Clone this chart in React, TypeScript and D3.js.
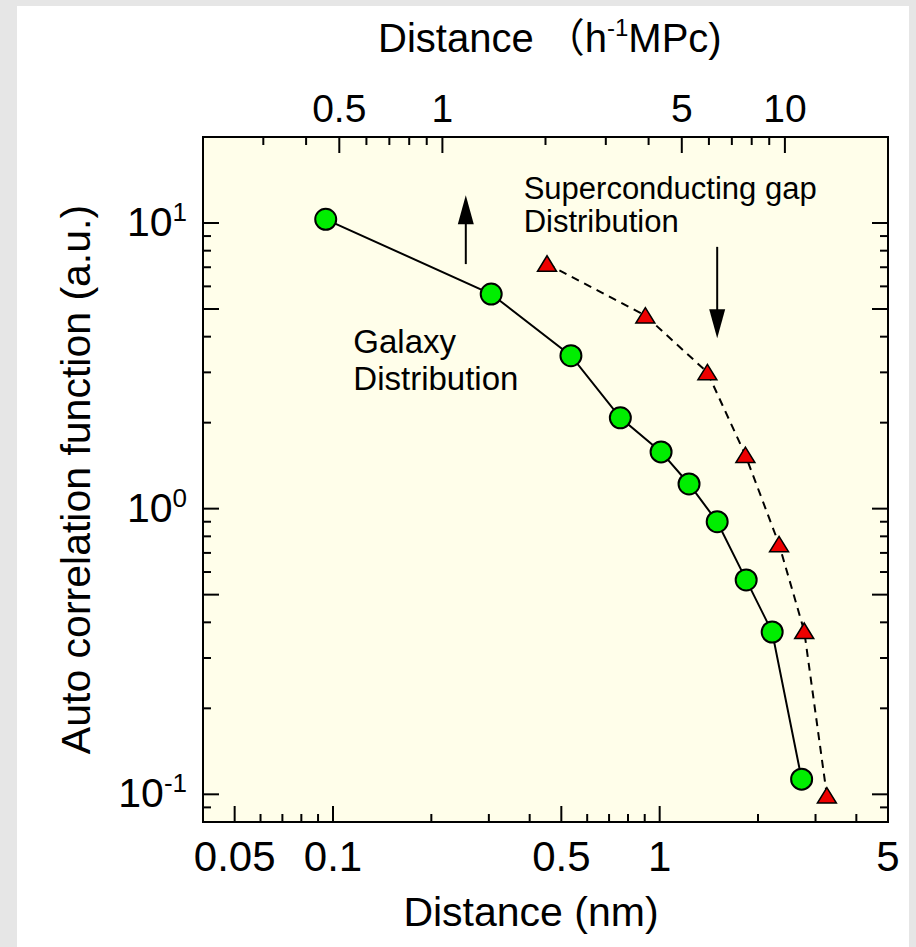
import React from "react";
import * as d3 from "d3";

// galaxy distribution (circles), x in nm
const galaxyX = [0.095, 0.305, 0.535, 0.758, 1.01, 1.23, 1.5, 1.84, 2.21, 2.72];
const galaxyY = [10.3, 5.64, 3.43, 2.08, 1.58, 1.22, 0.9, 0.563, 0.37, 0.113];

// superconducting gap distribution (triangles)
const gapX = [0.452, 0.904, 1.4, 1.83, 2.32, 2.77, 3.25];
const gapY = [7.2, 4.74, 3.0, 1.54, 0.75, 0.373, 0.099];

const bottomLabels = [0.05, 0.1, 0.5, 1, 5];
const topLabels = [0.5, 1, 5, 10];
const yLabels = [0.1, 1, 10];

const W = 916;
const H = 947;
const left = 203;
const right = 888;
const top = 137;
const bottom = 822;

const FONT = "'Liberation Sans', Arial, Helvetica, sans-serif";

const x = d3.scaleLog().domain([0.04, 5]).range([left, right]);
const xTop = d3.scaleLog().domain([0.2, 20]).range([left, right]);
const y = d3.scaleLog().domain([0.08, 20]).range([bottom, top]);

const isMajor = (v: number) => {
  const m = v / Math.pow(10, Math.floor(Math.log10(v) + 1e-9));
  return Math.abs(m - 1) < 1e-6 || Math.abs(m - 5) < 1e-6;
};

const inner = (scale: any) => {
  const [a, b] = scale.domain();
  return scale.ticks().filter((t: number) => t > a * 1.0001 && t < b * 0.9999);
};

const fmt = (v: number) => (v >= 1 ? String(v) : String(+v.toFixed(2)));

const tri = "M0,-8 L9.5,7.5 L-9.5,7.5 Z";

export default function App() {
  const galaxy = galaxyX.map((v, i) => [v, galaxyY[i]]);
  const gap = gapX.map((v, i) => [v, gapY[i]]);
  const line = d3
    .line<number[]>()
    .x(d => x(d[0]))
    .y(d => y(d[1]));

  const MAJ = 16;
  const MIN = 8;

  return (
    <svg
      width={W}
      height={H}
      style={{ position: "absolute", left: 0, top: 0 }}
      fontFamily={FONT}
    >
      <rect x={0} y={0} width={W} height={H} fill="#e6e6e6" />
      <rect x={17} y={6} width={892} height={H - 6} fill="#ffffff" />
      <rect
        x={left}
        y={top}
        width={right - left}
        height={bottom - top}
        fill="#fffeea"
      />

      {/* bottom ticks */}
      {inner(x).map((t: number, i: number) => (
        <line
          key={"b" + i}
          x1={x(t)}
          x2={x(t)}
          y1={bottom}
          y2={bottom - (isMajor(t) ? MAJ : MIN)}
          stroke="#000"
          strokeWidth={2}
        />
      ))}
      {/* top ticks */}
      {inner(xTop).map((t: number, i: number) => (
        <line
          key={"t" + i}
          x1={xTop(t)}
          x2={xTop(t)}
          y1={top}
          y2={top + (isMajor(t) ? MAJ : MIN)}
          stroke="#000"
          strokeWidth={2}
        />
      ))}
      {/* left + right ticks */}
      {inner(y).map((t: number, i: number) => (
        <g key={"y" + i}>
          <line
            x1={left}
            x2={left + (isMajor(t) ? MAJ : MIN)}
            y1={y(t)}
            y2={y(t)}
            stroke="#000"
            strokeWidth={2}
          />
          <line
            x1={right}
            x2={right - (isMajor(t) ? MAJ : MIN)}
            y1={y(t)}
            y2={y(t)}
            stroke="#000"
            strokeWidth={2}
          />
        </g>
      ))}

      <rect
        x={left}
        y={top}
        width={right - left}
        height={bottom - top}
        fill="none"
        stroke="#000"
        strokeWidth={2}
      />

      {/* tick labels */}
      {bottomLabels.map(v => (
        <text key={"bl" + v} x={x(v)} y={871} fontSize={42} textAnchor="middle">
          {fmt(v)}
        </text>
      ))}
      {topLabels.map(v => (
        <text key={"tl" + v} x={xTop(v)} y={122} fontSize={39} textAnchor="middle">
          {fmt(v)}
        </text>
      ))}
      {yLabels.map(v => (
        <text key={"yl" + v} x={187} y={y(v) + 13} fontSize={41} textAnchor="end">
          10
          <tspan fontSize={26} dy={-15}>
            {Math.round(Math.log10(v))}
          </tspan>
        </text>
      ))}

      {/* axis titles */}
      <text x={531} y={926} fontSize={41} textAnchor="middle">
        Distance (nm)
      </text>
      <text x={378} y={52} fontSize={40}>
        {"Distance "}
        <tspan fontFamily="'Noto Sans CJK JP', sans-serif">{"\uFF08"}</tspan>
        h<tspan fontSize={24} dy={-16}>-1</tspan>
        <tspan dy={16}>MPc)</tspan>
      </text>
      <text
        transform={`translate(90,${(top + bottom) / 2}) rotate(-90)`}
        fontSize={41}
        textAnchor="middle"
      >
        Auto correlation function (a.u.)
      </text>

      {/* data lines */}
      <path d={line(galaxy) || ""} fill="none" stroke="#000" strokeWidth={2} />
      <path
        d={line(gap) || ""}
        fill="none"
        stroke="#000"
        strokeWidth={2}
        strokeDasharray="8,6"
      />

      {/* markers */}
      {galaxy.map((d, i) => (
        <circle
          key={"c" + i}
          cx={x(d[0])}
          cy={y(d[1])}
          r={10.5}
          fill="#00ee00"
          stroke="#000"
          strokeWidth={2}
        />
      ))}
      {gap.map((d, i) => (
        <path
          key={"r" + i}
          d={tri}
          transform={`translate(${x(d[0])},${y(d[1])})`}
          fill="#ee0000"
          stroke="#000"
          strokeWidth={1.5}
        />
      ))}

      {/* arrows */}
      <line x1={x(0.255)} x2={x(0.255)} y1={y(7.18)} y2={y(10.5)} stroke="#000" strokeWidth={2} />
      <path
        d={`M${x(0.255)},${y(12.5)} L${x(0.255) + 8},${y(12.5) + 29} L${x(0.255) - 8},${y(12.5) + 29} Z`}
        fill="#000"
      />
      <line x1={x(1.5)} x2={x(1.5)} y1={y(8.25)} y2={y(4.6)} stroke="#000" strokeWidth={2} />
      <path
        d={`M${x(1.5)},${y(3.95)} L${x(1.5) + 8},${y(3.95) - 29} L${x(1.5) - 8},${y(3.95) - 29} Z`}
        fill="#000"
      />

      {/* annotations */}
      <text x={x(0.1154)} y={y(3.5)} fontSize={33}>
        Galaxy
        <tspan x={x(0.1154)} dy={37}>
          Distribution
        </tspan>
      </text>
      <text x={x(0.3834)} y={y(12.13)} fontSize={31}>
        Superconducting gap
        <tspan x={x(0.3834)} dy={33}>
          Distribution
        </tspan>
      </text>
    </svg>
  );
}
